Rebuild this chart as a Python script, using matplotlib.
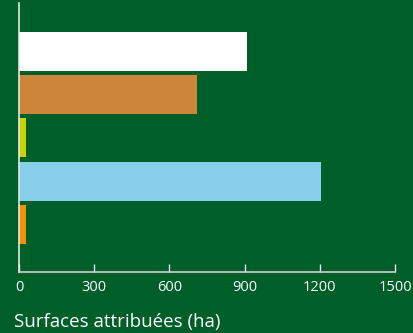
import matplotlib.pyplot as plt

# data
values = [910, 712, 28, 1205, 28]
colors = ["#ffffff", "#cd853a", "#c9d400", "#87ceeb", "#f39200"]
ticks = [0, 300, 600, 900, 1200, 1500]
xlabel = "Surfaces attribuées (ha)"

bg = "#005e28"
plt.rcParams["font.family"] = ["Open Sans", "DejaVu Sans"]

fig = plt.figure(figsize=(4.14, 3.33), dpi=100, facecolor=bg)
ax = fig.add_axes([19 / 414, 1 - 272 / 333, 376 / 414, 269 / 333])
ax.set_facecolor(bg)

pos = list(range(len(values)))
ax.barh(pos, values, height=0.9, color=colors)

ax.set_xlim(0, 1500)
ax.set_ylim(4 + 1.1, -1.12)
ax.set_xticks(ticks)
ax.set_xticklabels([str(t) for t in ticks])
ax.set_yticks([])

for s in ["top", "right"]:
    ax.spines[s].set_visible(False)
ax.spines["left"].set_color("#e8e8e8")
ax.spines["bottom"].set_color("#d0d0d0")
ax.spines["left"].set_linewidth(1.2)
ax.spines["bottom"].set_linewidth(1.2)

ax.tick_params(axis="x", direction="in", length=6, width=1, color="#e8e8e8",
               labelcolor="white", labelsize=10.5, pad=6)

fig.text(14 / 414, 1 - 327 / 333, xlabel, color="white", fontsize=13.5,
         ha="left", va="baseline")

fig.savefig("out.png", dpi=100, facecolor=bg)
